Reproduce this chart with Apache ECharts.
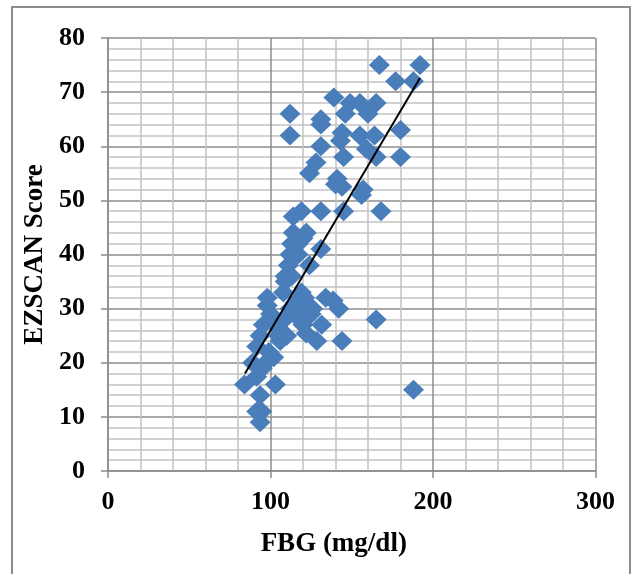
<!DOCTYPE html>
<html>
<head>
<meta charset="utf-8">
<script src="https://cdn.jsdelivr.net/npm/echarts@6/dist/echarts.min.js"></script>
<style>
html,body{margin:0;padding:0;background:#fff;}
#chart{width:633px;height:574px;}
</style>
</head>
<body>
<div id="chart"></div>
<script>
// FBG values (mg/dl)
var fbg = [167,192,177,188,139,112,112,149,155,165,146,160,131,131,144,155,164,180,143,131,159,165,145,180,128,124,140,144,157,156,141,
  119,114,131,145,168,114,122,113,117,131,114,111,124,109,108,98,121,134,138.5,109,98,121,142,116,110,131.5,122,128.5,144,95.6,93.6,105,91.5,102,84,91.5,103,93.6,91.5,94.6,93.6,165,188,
  100,103,106,112,115,118,120,125,119,113,117,120,112,106,99,97,95,89,110,126,119];
// EZSCAN scores
var ezscan = [75,75,72,72,69,66,62,68,68,68,66,66,65,64,62.5,62,62,63,61,60,59.5,58,58,58,57,55,53,52.5,52,51,54,
  48,47,48,48,48,44,44,42,40,41,39.5,38,38,36,33,32,32,32,31.5,35,30.6,31,30,29,28.4,27,25.4,24,24,27,25,25,23,21,16,17.4,16,14,11,11,9,28,15,
  29,27,26,30,31,28,27,29,33,36,42,43,40,24,22,20,19,20,25,30,30];
// trend line endpoints [FBG, score]
var trendX = [84.3,192];
var trendY = [18,72.6];

var xTicks = [0,100,200,300];
var yTicks = [0,10,20,30,40,50,60,70,80];

var pts = fbg.map(function(v,i){return [v, ezscan[i]];});
var trend = trendX.map(function(v,i){return [v, trendY[i]];});

var chart = echarts.init(document.getElementById('chart'));
var font = '"Liberation Serif", "Times New Roman", serif';
var axisCommon = function(min,max,interval){
  return {
    type:'value', min:min, max:max, interval:interval,
    axisLine:{show:true, onZero:false, lineStyle:{color:'#8c8c8c', width:1.5}},
    axisTick:{show:true, inside:false, length:7, lineStyle:{color:'#8c8c8c', width:1.5}},
    minorTick:{show:false, splitNumber:5},
    splitLine:{show:true, lineStyle:{color:'#8c8c8c', width:1.5}},
    minorSplitLine:{show:true, lineStyle:{color:'#c4c4c4', width:1.5}},
    axisLabel:{color:'#000', fontFamily:font, fontWeight:'bold', fontSize:26},
    nameTextStyle:{color:'#000', fontFamily:font, fontWeight:'bold', fontSize:27}
  };
};
var xa = axisCommon(0,300,100);
xa.name = 'FBG (mg/dl)'; xa.nameLocation='middle'; xa.nameGap = 60;
xa.nameTextStyle.padding = [0,36,0,0];
xa.axisLabel.margin = 18;
var ya = axisCommon(0,80,10);
ya.name = 'EZSCAN Score'; ya.nameLocation='middle'; ya.nameGap = 54;
ya.axisLabel.margin = 23;

chart.setOption({
  animation:false,
  backgroundColor:'#fff',
  graphic:[{type:'rect', shape:{x:12,y:7,width:618,height:590}, style:{fill:'none', stroke:'#8c8c8c', lineWidth:2}, z:-10}],
  grid:{left:108, right:37.5, top:38, bottom:103, containLabel:false},
  xAxis:xa,
  yAxis:ya,
  series:[
    {type:'scatter', data:pts, symbol:'diamond', symbolSize:[21,20],
     itemStyle:{color:'#4a7ebb', opacity:1}, z:3},
    {type:'line', data:trend, symbol:'none', lineStyle:{color:'#000', width:2}, z:4}
  ]
});
</script>
</body>
</html>
